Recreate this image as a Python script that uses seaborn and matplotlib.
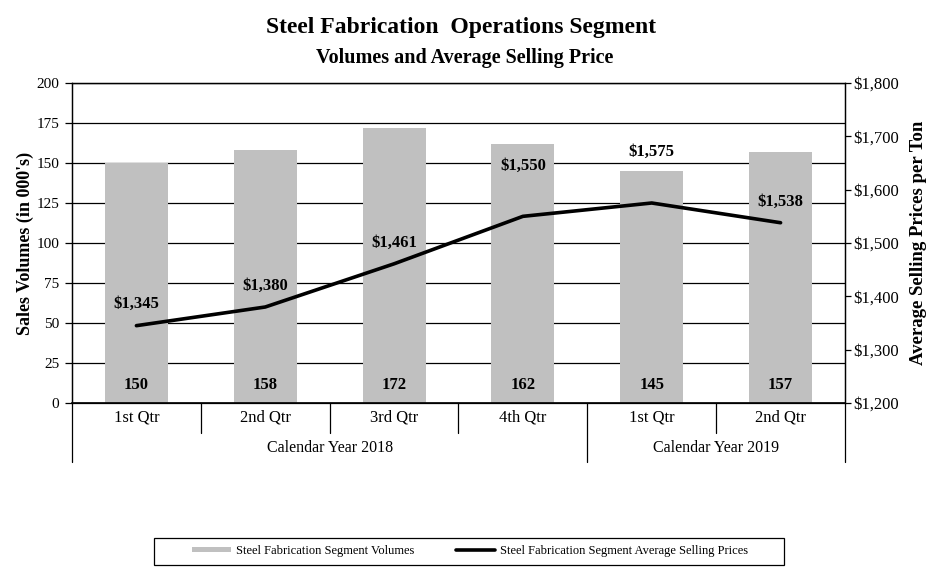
import matplotlib
matplotlib.use("Agg")
import matplotlib.pyplot as plt
import matplotlib.transforms as mtransforms
from matplotlib.lines import Line2D
from matplotlib.patches import Patch, Rectangle
import numpy as np
import pandas as pd
import seaborn as sns

# ---- data ----
quarters = ["1st Qtr", "2nd Qtr", "3rd Qtr", "4th Qtr", "1st Qtr", "2nd Qtr"]
years = ["Calendar Year 2018", "Calendar Year 2019"]
year_of_quarter = [0, 0, 0, 0, 1, 1]
volumes = [150, 158, 172, 162, 145, 157]
prices = [1345, 1380, 1461, 1550, 1575, 1538]
price_labels = ["$1,345", "$1,380", "$1,461", "$1,550", "$1,575", "$1,538"]
left_ticks = [0, 25, 50, 75, 100, 125, 150, 175, 200]
right_ticks = [1200, 1300, 1400, 1500, 1600, 1700, 1800]

# label offsets (display styling)
price_label_offsets = [40, 40, 40, 95, 95, 40]

sns.set_theme(style="white")
plt.rcParams["font.family"] = ["Liberation Serif", "DejaVu Serif"]
plt.rcParams["text.color"] = "black"
plt.rcParams["axes.labelcolor"] = "black"
plt.rcParams["xtick.color"] = "black"
plt.rcParams["ytick.color"] = "black"

keys = [f"{years[y]}|{i}" for i, y in enumerate(year_of_quarter)]
df = pd.DataFrame({"key": keys, "volume": volumes, "price": prices,
                   "pos": np.arange(len(keys))})

fig = plt.figure(figsize=(9.35, 5.75), dpi=100)
ax = fig.add_axes([72/935, 1-403/575, (845-72)/935, 320/575])

sns.barplot(data=df, x="key", y="volume", color="#c0c0c0", width=0.49,
            saturation=1, ax=ax, zorder=2, edgecolor="none")
ax.set_xlim(-0.5, len(keys) - 0.5)
ax.set_ylim(0, 200)
ax.set_yticks(left_ticks)
ax.set_yticklabels([str(t) for t in left_ticks], fontsize=11)
ax.set_xticks([])
ax.set_xlabel("")
ax.set_ylabel("Sales Volumes (in 000's)", fontsize=13, fontweight="bold", labelpad=2)
for t in left_ticks:
    ax.axhline(t, color="black", lw=0.9, zorder=1)
ax.tick_params(axis="y", which="both", left=True, length=5, width=0.9,
               color="black", direction="out", pad=4)
for s in ax.spines.values():
    s.set_color("black")
    s.set_linewidth(0.9)
ax.spines["bottom"].set_linewidth(1.2)

for i, v in enumerate(volumes):
    ax.text(i, 11, str(v), ha="center", va="center", fontsize=12,
            fontweight="bold", zorder=5)

ax2 = ax.twinx()
sns.lineplot(data=df, x="pos", y="price", color="black", lw=2.6, ax=ax2,
             zorder=4)
ax2.set_xlim(-0.5, len(keys) - 0.5)
ax2.set_ylim(1200, 1800)
ax2.set_yticks(right_ticks)
ax2.set_yticklabels([f"${t:,}" for t in right_ticks], fontsize=12)
ax2.set_ylabel("Average Selling Prices per Ton", fontsize=13.5, fontweight="bold",
               labelpad=8)
ax2.set_xlabel("")
ax2.tick_params(axis="y", right=True, length=4, width=0.9, color="black",
                direction="out", pad=2)
for s in ax2.spines.values():
    s.set_color("black")
    s.set_linewidth(0.9)
for i, (p, lab) in enumerate(zip(prices, price_labels)):
    ax2.text(i, p + price_label_offsets[i], lab, ha="center", va="center",
             fontsize=12, fontweight="bold", zorder=6)

# two-level category axis
trans = mtransforms.blended_transform_factory(ax.transData, ax.transAxes)
row1 = -30/320
row2 = -59/320
n = len(keys)
for b in range(n + 1):
    xb = b - 0.5
    is_year_edge = b == 0 or b == n or year_of_quarter[b - 1] != year_of_quarter[b]
    ax.plot([xb, xb], [0, row2 if is_year_edge else row1], color="black",
            lw=0.9, transform=trans, clip_on=False)
for i, q in enumerate(quarters):
    ax.text(i, -15/320, q, ha="center", va="center", fontsize=12,
            transform=trans)
for yi, yname in enumerate(years):
    idx = [i for i, y in enumerate(year_of_quarter) if y == yi]
    ax.text((idx[0] + idx[-1]) / 2, -45/320, yname, ha="center", va="center",
            fontsize=11.5, transform=trans)

fig.text(461/935, 1-27/575, "Steel Fabrication  Operations Segment",
         ha="center", va="center", fontsize=17, fontweight="bold")
fig.text(465/935, 1-58/575, "Volumes and Average Selling Price",
         ha="center", va="center", fontsize=14.5, fontweight="bold")

# legend with hand-placed frame
fig.patches.append(Rectangle((154/935, 1-565/575), (784-154)/935, 27/575,
                             transform=fig.transFigure, fill=False,
                             edgecolor="black", lw=0.9))
handles = [Patch(facecolor="#c0c0c0", edgecolor="none"),
           Line2D([0], [0], color="black", lw=2.6)]
leg = fig.legend(handles, ["Steel Fabrication Segment Volumes",
                           "Steel Fabrication Segment Average Selling Prices"],
                 loc="center", bbox_to_anchor=(470/935, 1-551/575), ncol=2,
                 fontsize=9, frameon=False, columnspacing=3.3,
                 handlelength=3.1, handleheight=0.35, handletextpad=0.4)

fig.savefig("out.png", dpi=100)
